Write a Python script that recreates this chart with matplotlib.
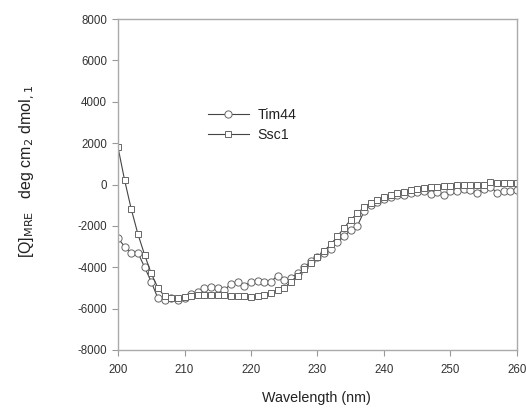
import matplotlib
matplotlib.use("Agg")
import matplotlib.pyplot as plt
import numpy as np

plt.rcParams['font.family'] = ['Liberation Sans', 'DejaVu Sans']
plt.rcParams['axes.unicode_minus'] = False

wavelength = list(range(200, 261))

ssc1 = [1800, 200, -1200, -2400, -3400, -4300, -5000, -5400, -5500, -5500,
        -5450, -5400, -5350, -5350, -5350, -5350, -5350, -5400, -5400, -5400,
        -5450, -5400, -5350, -5250, -5100, -5000, -4700, -4400, -4100, -3800,
        -3500, -3200, -2900, -2500, -2100, -1700, -1400, -1100, -900, -750,
        -600, -500, -400, -350, -250, -200, -150, -100, -100, -50,
        -50, 0, 0, 0, 0, 0, 100, 50, 50, 50, 80]

tim44 = [-2600, -3000, -3300, -3300, -4000, -4700, -5500, -5600, -5500, -5600,
         -5500, -5300, -5200, -5000, -4950, -5000, -5100, -4800, -4700, -4900,
         -4700, -4650, -4700, -4700, -4400, -4600, -4500, -4300, -4000, -3700,
         -3500, -3300, -3100, -2800, -2500, -2200, -2000, -1300, -1000, -850,
         -700, -600, -500, -500, -400, -350, -300, -450, -350, -500,
         -300, -300, -200, -250, -400, -200, -100, -400, -300, -300, -250]

xticks = [200, 210, 220, 230, 240, 250, 260]
yticks = [-8000, -6000, -4000, -2000, 0, 2000, 4000, 6000, 8000]

fig = plt.figure(figsize=(5.26, 4.08), dpi=100)
ax = fig.add_axes([118/526, 58/408, 399/526, 331/408])

line_col = '#444444'
mk_col = '#666666'
ax.plot(wavelength, tim44, color=line_col, lw=0.8, marker='o', ms=5.2,
        mfc='white', mec=mk_col, mew=0.7, label='Tim44')
ax.plot(wavelength, ssc1, color=line_col, lw=0.8, marker='s', ms=4.6,
        mfc='white', mec=mk_col, mew=0.7, label='Ssc1')

ax.set_xlim(200, 260)
ax.set_ylim(-8000, 8000)
ax.set_xticks(xticks)
ax.set_yticks(yticks)
ax.tick_params(axis='both', direction='out', length=4, width=0.8,
               color='#999999', labelsize=8.3, labelcolor='#333333', pad=4)
ax.tick_params(axis='x', pad=6)
for s in ax.spines.values():
    s.set_color('#aaaaaa')
    s.set_linewidth(1.0)

fig.text(316/526, 1 - 398/408, 'Wavelength (nm)', ha='center', va='center',
         fontsize=10.3, color='#222222')
fig.text(27/526, 1 - 172/408, r'[Q]$_{\rm MRE}$   deg cm$_{\rm 2}$ dmol$_{\rm ,1}$',
         rotation=90, ha='center', va='center', fontsize=11.5, color='#222222')

leg = ax.legend(loc='upper left', bbox_to_anchor=(84/399, 1 - 83/331),
                frameon=False, fontsize=10.2, handlelength=2.9,
                handletextpad=0.6, labelspacing=0.45, borderaxespad=0)
for t in leg.get_texts():
    t.set_color('#222222')

fig.savefig('out.png', dpi=100)
